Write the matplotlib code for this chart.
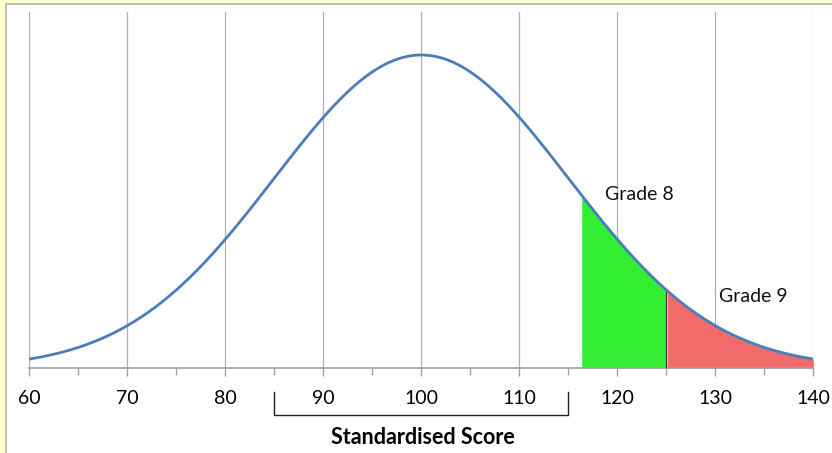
import numpy as np
import matplotlib
matplotlib.use("Agg")
import matplotlib.pyplot as plt
from matplotlib.patches import Rectangle
import matplotlib.transforms as mtransforms

plt.rcParams['font.family'] = ['Lato', 'DejaVu Sans']

# Data
mean = 100
sd = 15
x_min, x_max = 60, 140
grade8_start = 116.3
grade9_start = 125
tick_values = [60, 70, 80, 90, 100, 110, 120, 130, 140]
tick_labels = [str(v) for v in tick_values]
minor_values = [65, 75, 85, 95, 105, 115, 125, 135]
bracket_range = [85, 115]
grade_labels = ["Grade 8", "Grade 9"]
grade_label_pos = [(118.7, 0.553), (130.4, 0.227)]
xlabel = "Standardised Score"

x = np.linspace(x_min, x_max, 800)
y = np.exp(-0.5 * ((x - mean) / sd) ** 2)

fig = plt.figure(figsize=(8.32, 4.53), dpi=100)
fig.patch.set_facecolor('#FFFFCC')
bg = Rectangle((6/832, -0.01), 1.0, 1 - 4/453 + 0.01, transform=fig.transFigure,
               facecolor='white', edgecolor='#B0B0B0', linewidth=1.2, zorder=-10)
fig.patches.append(bg)

ax = fig.add_axes([29.3/832, 1 - 368/453, 784/832, 356/453])
ax.set_zorder(5)
ax.set_facecolor('none')
ax.set_xlim(x_min, x_max)
ax.set_ylim(0, 356/313)

for v in tick_values:
    ax.axvline(v, color='#B0B0B0', linewidth=0.9, zorder=1)

m8 = (x >= grade8_start) & (x <= grade9_start)
m9 = x >= grade9_start
ax.fill_between(x[m8], 0, y[m8], color='#33EE33', linewidth=0, zorder=2)
ax.fill_between(x[m9], 0, y[m9], color='#F26B6B', linewidth=0, zorder=2)
yb9 = np.exp(-0.5 * ((grade9_start - mean) / sd) ** 2)
ax.plot([grade9_start, grade9_start], [0, yb9], color='#333333', linewidth=0.8, zorder=3)
ax.plot(x, y, color='#4A7EBB', linewidth=2.0, zorder=4)

for spine in ['top', 'right', 'left']:
    ax.spines[spine].set_visible(False)
ax.spines['bottom'].set_color('#A0A0A0')
ax.spines['bottom'].set_linewidth(1.2)
ax.set_yticks([])
ax.set_xticks(tick_values)
ax.set_xticklabels(tick_labels, fontsize=14)
ax.set_xticks(minor_values, minor=True)
ax.tick_params(axis='x', which='major', direction='out', length=6, color='#A0A0A0',
               width=1.0, pad=10)
ax.tick_params(axis='x', which='minor', direction='out', length=5, color='#A0A0A0',
               width=1.0)

for lab, (gx, gy) in zip(grade_labels, grade_label_pos):
    ax.text(gx, gy, lab, fontsize=14, ha='left', va='center', color='#111111')

trans = mtransforms.blended_transform_factory(ax.transData, ax.transAxes)
b0, b1 = bracket_range
ax.plot([b0, b0, b1, b1], [-0.067, -0.132, -0.132, -0.067], color='#222222',
        linewidth=1.0, transform=trans, clip_on=False)

ax.text((b0 + b1) / 2 + 0.2, -0.195, xlabel, fontsize=15.5, fontweight='bold',
        ha='center', va='center', transform=trans)

fig.savefig('out.png', dpi=100, facecolor=fig.get_facecolor())
